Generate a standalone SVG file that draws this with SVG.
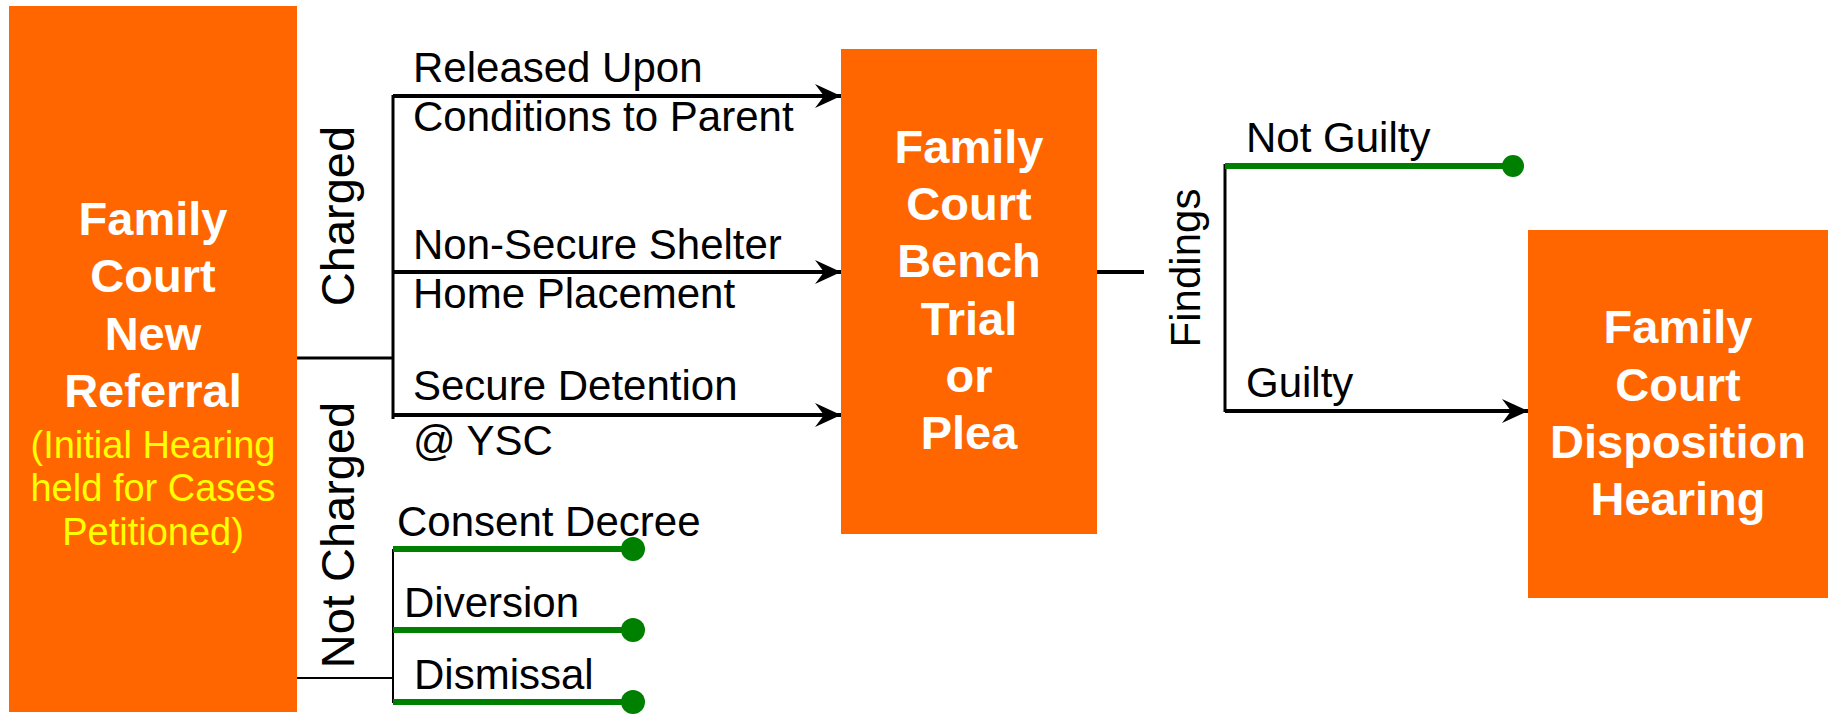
<svg xmlns="http://www.w3.org/2000/svg" width="1839" height="714" viewBox="0 0 1839 714">
<style>
.box{fill:#FF6600}
.bt{font-family:"Liberation Sans",Arial,sans-serif;font-weight:bold;font-size:47px;fill:#FFFFFF;text-anchor:middle}
.yt{font-family:"Liberation Sans",Arial,sans-serif;font-size:38px;fill:#FFFF00;text-anchor:middle}
.lt{font-family:"Liberation Sans",Arial,sans-serif;font-size:42px;fill:#000000}
.vt{font-family:"Liberation Sans",Arial,sans-serif;font-size:47px;fill:#000000;text-anchor:middle}
.blk{stroke:#000000;stroke-width:3;fill:none}
.arr{stroke:#000000;stroke-width:4;fill:none;marker-end:url(#ah)}
.thin{stroke:#000000;stroke-width:2;fill:none}
.grn{stroke:#008000;stroke-width:6;fill:none}
.dot{fill:#008000}
</style>
<defs>
<marker id="ah" markerUnits="userSpaceOnUse" viewBox="-27 -13 28 26" refX="0" refY="0" markerWidth="28" markerHeight="26" orient="auto">
<path d="M0,0 L-26,-12 L-17,0 L-26,12 Z" fill="#000000"/>
</marker>
</defs>
<g id="node-referral">
<rect class="box" x="9" y="6" width="288" height="706"/>
<text class="bt" x="153" y="235">Family</text>
<text class="bt" x="153" y="292">Court</text>
<text class="bt" x="153" y="350">New</text>
<text class="bt" x="153" y="407">Referral</text>
<text class="yt" x="153" y="458">(Initial Hearing</text>
<text class="yt" x="153" y="501">held for Cases</text>
<text class="yt" x="153" y="545">Petitioned)</text>
</g>
<g id="node-bench">
<rect class="box" x="841" y="49" width="256" height="485"/>
<text class="bt" x="969" y="163">Family</text>
<text class="bt" x="969" y="220">Court</text>
<text class="bt" x="969" y="277">Bench</text>
<text class="bt" x="969" y="335">Trial</text>
<text class="bt" x="969" y="392">or</text>
<text class="bt" x="969" y="449">Plea</text>
</g>
<g id="node-disposition">
<rect class="box" x="1528" y="230" width="300" height="368"/>
<text class="bt" x="1678" y="343">Family</text>
<text class="bt" x="1678" y="401">Court</text>
<text class="bt" x="1678" y="458">Disposition</text>
<text class="bt" x="1678" y="515">Hearing</text>
</g>
<g id="connectors">
<line class="blk" x1="297" y1="358" x2="393" y2="358"/>
<line class="blk" x1="393" y1="95" x2="393" y2="419"/>
<line class="arr" x1="393" y1="96" x2="841" y2="96"/>
<line class="arr" x1="393" y1="272" x2="841" y2="272"/>
<line class="arr" x1="393" y1="415" x2="841" y2="415"/>
<line class="thin" x1="297" y1="678" x2="393" y2="678"/>
<line class="thin" x1="393" y1="549" x2="393" y2="703"/>
<line class="grn" x1="393" y1="549" x2="633" y2="549"/>
<circle class="dot" cx="633" cy="549" r="12"/>
<line class="grn" x1="393" y1="630" x2="633" y2="630"/>
<circle class="dot" cx="633" cy="630" r="12"/>
<line class="grn" x1="393" y1="702" x2="633" y2="702"/>
<circle class="dot" cx="633" cy="702" r="12"/>
<line class="blk" x1="1097" y1="272" x2="1144" y2="272" style="stroke-width:4"/>
<line class="blk" x1="1225" y1="164" x2="1225" y2="412"/>
<line class="grn" x1="1225" y1="166" x2="1513" y2="166"/>
<circle class="dot" cx="1513" cy="166" r="11"/>
<line class="arr" x1="1225" y1="411" x2="1528" y2="411"/>
<text class="vt" transform="translate(354,216) rotate(-90)">Charged</text>
<text class="vt" transform="translate(354,535) rotate(-90)">Not Charged</text>
<text class="vt" style="font-size:42px" transform="translate(1200,268) rotate(-90)">Findings</text>
<text class="lt" x="413" y="82">Released Upon</text>
<text class="lt" x="413" y="131">Conditions to Parent</text>
<text class="lt" x="413" y="259">Non-Secure Shelter</text>
<text class="lt" x="413" y="308">Home Placement</text>
<text class="lt" x="413" y="400">Secure Detention</text>
<text class="lt" x="413" y="455">@ YSC</text>
<text class="lt" x="397" y="536">Consent Decree</text>
<text class="lt" x="404" y="617">Diversion</text>
<text class="lt" x="414" y="689">Dismissal</text>
<text class="lt" x="1246" y="152">Not Guilty</text>
<text class="lt" x="1246" y="397">Guilty</text>
</g>
</svg>
